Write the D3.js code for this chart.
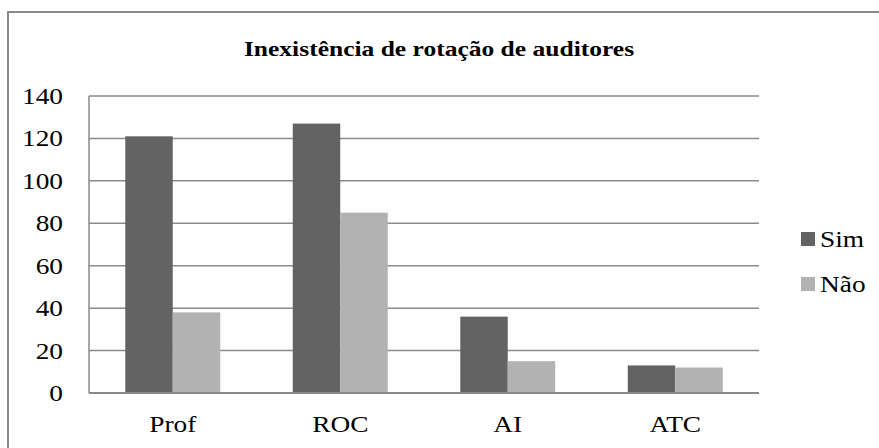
<!DOCTYPE html>
<html>
<head>
    <meta charset="utf-8">
    <title>Inexistência de rotação de auditores</title>
    <style>
        body { margin: 0; background: #fff; }
        svg { display: block; }
        svg text { font-family: "Liberation Serif", "DejaVu Serif", serif; fill: #000; }
    </style>
</head>
<body>
    <svg width="879" height="448"></svg>
    <script src="https://d3js.org/d3.v7.min.js"></script>
    <script>
        // chart data
        var categories = ["Prof", "ROC", "AI", "ATC"];
        var seriesNames = ["Sim", "Não"];
        var simValues = [121, 127, 36, 13];
        var naoValues = [38, 85, 15, 12];
        var yTicks = [0, 20, 40, 60, 80, 100, 120, 140];
        var colors = ["#636363", "#b2b2b2"];

        var svg = d3.select("svg");
        var serif = "Liberation Serif, DejaVu Serif, serif";
        // the original picture is stretched a bit sideways
        function place(px, py, s){
            return "translate(" + px + "," + py + ") scale(" + (s || 1.19) + ",1)";
        }

        // outer chart border (runs off the right and bottom of the page)
        svg.append("rect")
            .attr("x", 8).attr("y", 12)
            .attr("width", 900).attr("height", 460)
            .attr("fill", "none")
            .attr("stroke", "#8a8a8a")
            .attr("stroke-width", 2);

        // title
        svg.append("text")
            .attr("transform", place(439, 56, 1.16))
            .attr("text-anchor", "middle")
            .attr("font-family", serif)
            .style("font-size", "22px")
            .style("font-weight", "bold")
            .text("Inexistência de rotação de auditores");

        // plot area bounds
        var plotL = 89, plotR = 759, plotT = 96, plotB = 393;

        var x = d3.scaleBand()
            .domain(categories)
            .range([plotL, plotR])
            .paddingInner(0.433)
            .paddingOuter(0.2165);
        var xSub = d3.scaleBand()
            .domain(seriesNames)
            .range([0, x.bandwidth()]);
        var y = d3.scaleLinear()
            .domain([0, 140])
            .range([plotB, plotT]);

        // gridlines
        svg.append("g")
            .selectAll("line")
            .data(yTicks)
            .enter()
            .append("line")
            .attr("x1", plotL).attr("x2", plotR)
            .attr("y1", function(d){ return y(d); })
            .attr("y2", function(d){ return y(d); })
            .attr("stroke", "#8a8a8a")
            .attr("stroke-width", 1.5);

        // y tick labels
        svg.append("g")
            .selectAll("text")
            .data(yTicks)
            .enter()
            .append("text")
            .attr("transform", function(d){ return place(63, y(d)); })
            .attr("dy", "0.35em")
            .attr("text-anchor", "end")
            .attr("font-family", serif)
            .style("font-size", "23px")
            .text(function(d){ return d; });

        // bars
        var rows = categories.map(function(c, i){
            return { cat: c, values: [simValues[i], naoValues[i]] };
        });
        var groups = svg.append("g")
            .selectAll("g")
            .data(rows)
            .enter()
            .append("g")
            .attr("transform", function(d){ return "translate(" + x(d.cat) + ",0)"; });
        groups.selectAll("rect")
            .data(function(d){
                return d.values.map(function(v, i){ return { name: seriesNames[i], value: v, i: i }; });
            })
            .enter()
            .append("rect")
            .attr("x", function(d){ return xSub(d.name); })
            .attr("width", xSub.bandwidth())
            .attr("y", function(d){ return y(d.value); })
            .attr("height", function(d){ return plotB - y(d.value); })
            .attr("fill", function(d){ return colors[d.i]; });

        // axis lines (left and bottom)
        svg.append("line")
            .attr("x1", plotL).attr("x2", plotL)
            .attr("y1", plotT).attr("y2", plotB)
            .attr("stroke", "#8a8a8a").attr("stroke-width", 1.5);
        svg.append("line")
            .attr("x1", plotL).attr("x2", plotR)
            .attr("y1", plotB).attr("y2", plotB)
            .attr("stroke", "#8a8a8a").attr("stroke-width", 2);

        // category labels
        svg.append("g")
            .selectAll("text")
            .data(categories)
            .enter()
            .append("text")
            .attr("transform", function(d){ return place(x(d) + x.bandwidth() / 2, 432); })
            .attr("text-anchor", "middle")
            .attr("font-family", serif)
            .style("font-size", "23px")
            .text(function(d){ return d; });

        // legend
        var legend = svg.append("g")
            .selectAll("g")
            .data(seriesNames)
            .enter()
            .append("g")
            .attr("transform", function(d, i){ return "translate(801," + (232 + i * 45) + ")"; });
        legend.append("rect")
            .attr("width", 14).attr("height", 14)
            .attr("fill", function(d, i){ return colors[i]; });
        legend.append("text")
            .attr("transform", place(19, 15))
            .attr("font-family", serif)
            .style("font-size", "23px")
            .text(function(d){ return d; });
    </script>
</body>
</html>
